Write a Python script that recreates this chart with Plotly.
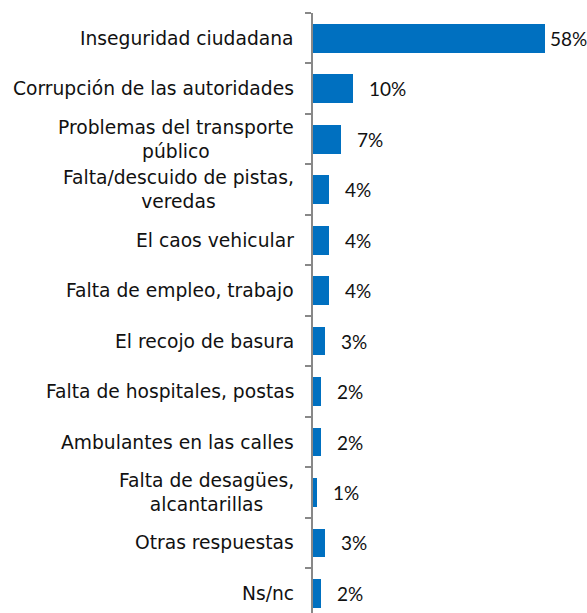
import plotly.graph_objects as go

categories = [
    "Inseguridad ciudadana",
    "Corrupción de las autoridades",
    "Problemas del transporte<br>público",
    "Falta/descuido de pistas,<br>veredas",
    "El caos vehicular",
    "Falta de empleo, trabajo",
    "El recojo de basura",
    "Falta de hospitales, postas",
    "Ambulantes en las calles",
    "Falta de desagües,<br>alcantarillas",
    "Otras respuestas",
    "Ns/nc",
]
values = [58, 10, 7, 4, 4, 4, 3, 2, 2, 1, 3, 2]
value_labels = [f"{v}%" for v in values]

positions = list(range(len(categories)))
BAR_COLOR = "#0070C0"
LABEL_FONT = "DejaVu Sans"
VALUE_FONT = "Lato"

fig = go.Figure()
fig.add_trace(go.Bar(
    x=values,
    y=positions,
    orientation="h",
    width=0.57,
    marker=dict(color=BAR_COLOR, line=dict(width=0)),
    hoverinfo="skip",
))

# category names, right-aligned against the axis with centred line wrapping
for pos, name in zip(positions, categories):
    fig.add_annotation(
        x=0, y=pos, xref="x", yref="y",
        text=name, showarrow=False,
        xanchor="right", yanchor="middle", align="center",
        xshift=-17,
        font=dict(family=LABEL_FONT, size=18.7, color="#111111"),
    )

# value labels beside each bar
for pos, v, lab in zip(positions, values, value_labels):
    fig.add_annotation(
        x=v, y=pos, xref="x", yref="y",
        text=lab, showarrow=False,
        xanchor="left", yanchor="middle",
        xshift=3 if v > 50 else 14,
        font=dict(family=VALUE_FONT, size=19, color="#111111"),
    )

fig.update_layout(
    width=587, height=613,
    margin=dict(l=313, r=0, t=13, b=0),
    paper_bgcolor="white", plot_bgcolor="white",
    showlegend=False,
    bargap=0,
)
fig.update_xaxes(
    range=[0, 68.4], visible=False, fixedrange=True,
)
fig.update_yaxes(
    range=[11.387, -0.5],
    tickvals=[p - 0.5 for p in positions],
    ticktext=[""] * len(positions),
    ticks="outside", ticklen=6, tickwidth=1.5, tickcolor="#888888",
    showline=True, linecolor="#888888", linewidth=2,
    showgrid=False, zeroline=False, fixedrange=True,
)

fig.write_html("out.html")
